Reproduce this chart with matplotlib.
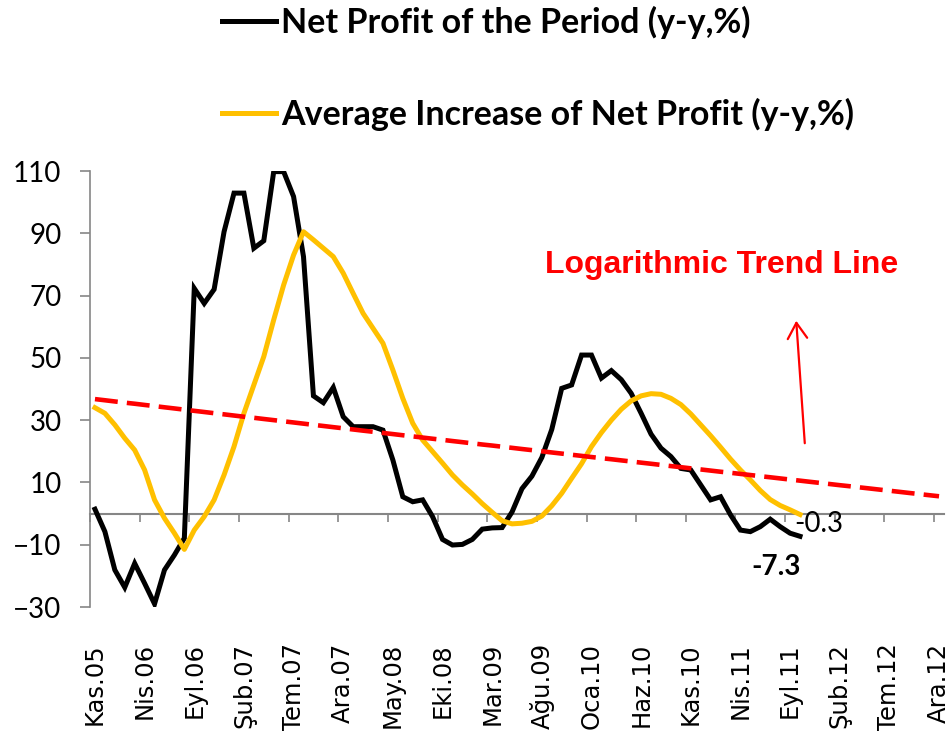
"""Net profit (y-y, %) vs its moving-average increase, with a log trend line."""

import matplotlib
matplotlib.use("Agg")
import matplotlib.pyplot as plt
import numpy as np
import pandas as pd
from matplotlib.font_manager import FontProperties

# ─── Data ────────────────────────────────────────────────────────────────────

net_profit = [
    1.4, -5.8, -18.1, -23.7, -16.0, -22.4, -29.0, -18.1, -13.3, -7.9,
    72.3, 67.5, 72.0, 90.5, 102.9, 102.9, 85.2, 87.6, 109.8, 109.8,
    101.8, 82.5, 37.8, 35.6, 40.5, 31.1, 27.9, 27.9, 27.9, 26.8,
    17.2, 5.4, 3.8, 4.4, -1.0, -8.3, -10.1, -9.9, -8.3, -5.0,
    -4.6, -4.5, 0.5, 8.0, 12.0, 18.0, 27.0, 40.2, 41.3, 50.9,
    50.9, 43.5, 45.9, 43.0, 38.6, 32.2, 25.5, 21.0, 18.3, 14.5,
    14.0, 9.2, 4.4, 5.4, -0.4, -5.3, -5.8, -4.2, -1.8, -4.2,
    -6.3, -7.3,
]

avg_increase = [
    34.0, 32.2, 28.5, 24.2, 20.4, 14.0, 4.4, -1.5, -6.3, -11.5,
    -5.3, -1.0, 4.4, 12.4, 21.5, 32.2, 41.3, 50.4, 62.2, 73.4,
    83.0, 90.5, 87.9, 85.2, 82.5, 77.2, 70.7, 64.3, 59.5, 54.7,
    46.1, 37.0, 29.0, 23.6, 19.9, 16.2, 12.4, 9.2, 6.3, 3.2,
    0.4, -2.3, -3.3, -3.1, -2.5, -0.8, 2.5, 6.5, 11.3, 16.0,
    21.5, 26.0, 30.0, 33.5, 36.2, 37.8, 38.5, 38.3, 37.0, 35.0,
    32.0, 28.5, 25.0, 21.3, 17.5, 14.0, 10.8, 7.4, 4.5, 2.6,
    1.2, -0.3,
]

tick_labels = [
    "Kas.05", "Nis.06", "Eyl.06", "Şub.07", "Tem.07", "Ara.07",
    "May.08", "Eki.08", "Mar.09", "Ağu.09", "Oca.10", "Haz.10",
    "Kas.10", "Nis.11", "Eyl.11", "Şub.12", "Tem.12", "Ara.12",
]

N_MONTHS = 86          # Kas.05 .. Ara.12
TICK_STEP = 5
Y_TICKS = list(range(-30, 111, 20))

GRAY = "#868686"
YELLOW = "#FFC000"
RED = "#FF0000"

# ─── Logarithmic trend (Excel style: x = date serial) ────────────────────────

months = pd.date_range("2005-11-01", periods=N_MONTHS, freq="MS")
serial = (months - pd.Timestamp("1899-12-30")).days.values.astype(float)
coef = np.polyfit(np.log(serial[: len(net_profit)]), net_profit, 1)
trend = np.polyval(coef, np.log(serial))

x_all = np.arange(N_MONTHS) + 0.5
x_data = x_all[: len(net_profit)]

# ─── Figure ──────────────────────────────────────────────────────────────────

fig = plt.figure(figsize=(9.5, 7.31), dpi=100)
ax = fig.add_axes([90 / 950, (731 - 607) / 731, (944 - 90) / 950, (607 - 171) / 731])

l_net, = ax.plot(x_data, net_profit, color="black", lw=3.6, zorder=3,
                 solid_joinstyle="miter", label="Net Profit of the Period (y-y,%)")
l_avg, = ax.plot(x_data, avg_increase, color=YELLOW, lw=3.6, zorder=3,
                 label="Average Increase of Net Profit (y-y,%)")
ax.plot(x_all, trend, color=RED, lw=3.3, dashes=(5.0, 2.0), zorder=4)

ax.set_xlim(0, N_MONTHS)
ax.set_ylim(-30, 110)

# y axis
ax.set_yticks(Y_TICKS)
ax.tick_params(axis="y", direction="out", length=7.5, width=1.2, color=GRAY,
               pad=13, labelsize=20)
for lab in ax.get_yticklabels():
    lab.set_fontfamily("Lato")
ax.spines["left"].set_color(GRAY)
ax.spines["left"].set_linewidth(1.2)
for side in ("top", "right", "bottom"):
    ax.spines[side].set_visible(False)

# category labels at the bottom of the plot area
ax.set_xticks(x_all[::TICK_STEP])
ax.set_xticklabels(tick_labels, rotation=90, fontsize=17.5, family="DejaVu Sans")
ax.tick_params(axis="x", length=0, pad=26)

# horizontal axis line crossing at zero, with outward tick marks
zero_axis = ax.secondary_xaxis(0, transform=ax.transData)
zero_axis.set_xticks(np.arange(0, N_MONTHS, TICK_STEP))
zero_axis.tick_params(axis="x", direction="out", length=6, width=1.2,
                      color=GRAY, labelbottom=False)
zero_axis.spines["bottom"].set_color(GRAY)
zero_axis.spines["bottom"].set_linewidth(1.5)

# end-point data labels
ax.annotate(f"{avg_increase[-1]:.1f}", xy=(x_data[-1], avg_increase[-1]),
            xytext=(-4, -7), textcoords="offset points", ha="left", va="center",
            fontsize=20, family="Lato")
ax.annotate(f"{net_profit[-1]:.1f}", xy=(x_data[-1], net_profit[-1]),
            xytext=(-17, -22), textcoords="offset points", ha="center", va="center",
            fontsize=20, family="Lato", fontweight="bold")

# trend line callout
ax.text(63.6, 79.8, "Logarithmic Trend Line", color=RED, fontsize=23,
        family="Liberation Sans", fontweight="bold", ha="center", va="center")
ax.annotate("", xy=(71.1, 62.8), xytext=(72.0, 21.7),
            arrowprops=dict(arrowstyle="->,head_length=0.45,head_width=0.28",
                            color=RED, lw=1.6, mutation_scale=25))

# legend above the plot
ax.legend(handles=[l_net, l_avg], loc="upper left",
          bbox_to_anchor=(222 / 950, 1 - 6 / 731), bbox_transform=fig.transFigure,
          frameon=False, prop=FontProperties(family="Lato", weight="bold", size=24.5),
          handlelength=1.6, handletextpad=0.13, labelspacing=1.72,
          borderpad=0, borderaxespad=0)

fig.savefig("out.png", dpi=100)
